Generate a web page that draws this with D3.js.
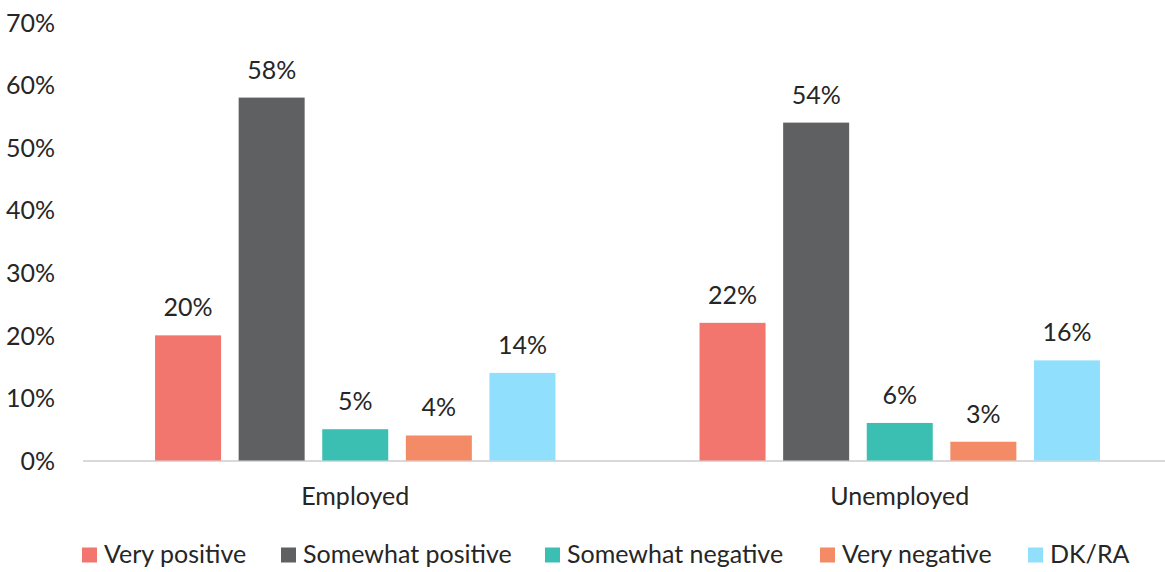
<!DOCTYPE html>
<html>
<head>
<meta charset="utf-8">
<script src="https://cdn.jsdelivr.net/npm/d3@7"></script>
<style>
  html, body { margin: 0; padding: 0; background: #ffffff; }
  svg { display: block; }
  text { font-family: Lato, "Open Sans", sans-serif; fill: #262626; }
</style>
</head>
<body>
<svg id="chart" width="1165" height="572"></svg>
<script>
const categories = ["Employed", "Unemployed"];
const seriesNames = ["Very positive", "Somewhat positive", "Somewhat negative", "Very negative", "DK/RA"];
const veryPositive = [0.20, 0.22];
const somewhatPositive = [0.58, 0.54];
const somewhatNegative = [0.05, 0.06];
const veryNegative = [0.04, 0.03];
const dkRa = [0.14, 0.16];
const yTicks = [0, 0.1, 0.2, 0.3, 0.4, 0.5, 0.6, 0.7];
const colors = ["#F2766E", "#5F6062", "#3CBFB3", "#F38C66", "#8FDFFD"];

const seriesValues = [veryPositive, somewhatPositive, somewhatNegative, veryNegative, dkRa];

const svg = d3.select("#chart");
const fontSize = 25;

const y = d3.scaleLinear().domain([0, 0.7]).range([460.5, 22.5]);
const x0 = d3.scaleBand().domain(categories).range([83, 1172]).paddingInner(0).paddingOuter(0);
const step = 83.6, barW = 66;
const pad = (step - barW) / step;
const x1 = d3.scaleBand().domain(seriesNames)
  .range([-seriesNames.length * step / 2, seriesNames.length * step / 2])
  .paddingInner(pad).paddingOuter(pad / 2);
const color = d3.scaleOrdinal().domain(seriesNames).range(colors);
const fmt = d3.format(".0%");

// Y axis labels
const yAxis = d3.axisLeft(y).tickValues(yTicks).tickFormat(fmt).tickSize(0).tickPadding(0);
const yg = svg.append("g").attr("transform", "translate(55,0)").call(yAxis);
yg.select(".domain").remove();
yg.selectAll("text").attr("font-size", fontSize).attr("font-family", "Lato").attr("fill", "#262626").attr("dy", "0.35em");

// Baseline
svg.append("line")
  .attr("x1", 83).attr("x2", 1165)
  .attr("y1", y(0) + 0.5).attr("y2", y(0) + 0.5)
  .attr("stroke", "#D9D9D9").attr("stroke-width", 1.8);

// Bars
const data = [];
categories.forEach((c, ci) => {
  seriesNames.forEach((s, si) => {
    data.push({ cat: c, series: s, value: seriesValues[si][ci] });
  });
});

const bars = svg.append("g");
bars.selectAll("rect").data(data).enter().append("rect")
  .attr("x", d => x0(d.cat) + x0.bandwidth() / 2 + x1(d.series))
  .attr("y", d => y(d.value))
  .attr("width", x1.bandwidth())
  .attr("height", d => y(0) - y(d.value))
  .attr("fill", d => color(d.series));

// Value labels
bars.selectAll("text.val").data(data).enter().append("text")
  .attr("class", "val")
  .attr("x", d => x0(d.cat) + x0.bandwidth() / 2 + x1(d.series) + x1.bandwidth() / 2)
  .attr("y", d => y(d.value) - 19)
  .attr("text-anchor", "middle")
  .attr("font-size", fontSize)
  .text(d => fmt(d.value));

// Category axis labels
const xAxis = d3.axisBottom(x0).tickSize(0).tickPadding(0);
const xg = svg.append("g").attr("transform", "translate(0,505)").call(xAxis);
xg.select(".domain").remove();
xg.selectAll("text").attr("font-size", fontSize).attr("font-family", "Lato").attr("fill", "#262626").attr("dy", 0).attr("y", 0);

// Legend
const legendX = [82, 281, 545, 820, 1028];
const legend = svg.append("g");
seriesNames.forEach((s, i) => {
  const g = legend.append("g").attr("transform", `translate(${legendX[i]},0)`);
  g.append("rect").attr("x", 0).attr("y", 547.5).attr("width", 15).attr("height", 15).attr("fill", color(s));
  g.append("text").attr("x", 22).attr("y", 562.5).attr("font-size", fontSize).text(s);
});
</script>
</body>
</html>
